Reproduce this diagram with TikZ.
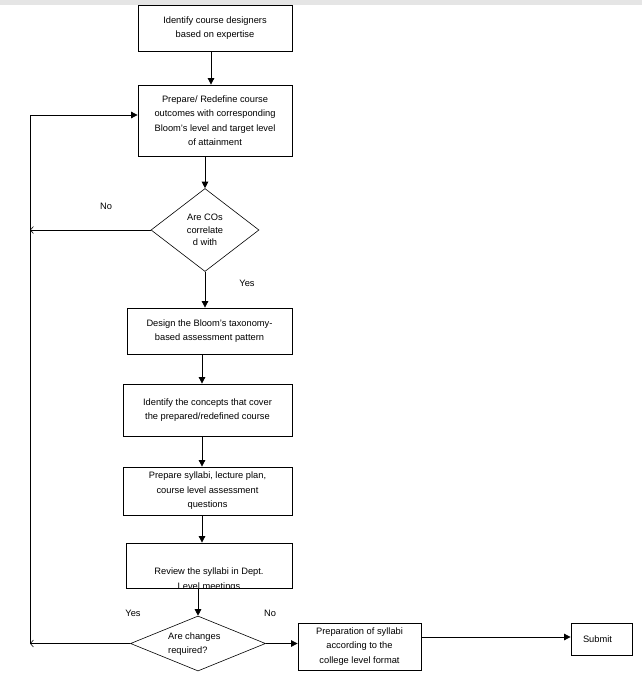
\documentclass[tikz,border=0pt]{standalone}
\usepackage{fontspec}
\setmainfont{Liberation Sans}
\usetikzlibrary{shapes.geometric,arrows.meta}
\definecolor{barcol}{RGB}{229,229,229}
\begin{document}
\begin{tikzpicture}[x=1pt,y=-1pt,
  box/.style={draw, line width=0.8pt, inner sep=0pt, align=center,
    font=\fontsize{9.3}{14.5}\selectfont},
  test/.style={diamond, draw, line width=0.6pt, inner sep=0pt, aspect=1.3,
    font=\fontsize{9.3}{12.5}\selectfont},
  lbl/.style={inner sep=0pt, font=\fontsize{9.3}{11}\selectfont},
  arr/.style={line width=0.8pt, -{Triangle[length=6.5pt,width=6.5pt]}},
  back/.style={line width=0.8pt, -{Straight Barb[length=3pt,width=7pt,line width=0.6pt]}}]
\useasboundingbox (0,0) rectangle (642,682);
\fill[barcol] (0,0) rectangle (642,5);
% main column
\node[box, minimum width=154, minimum height=46] (design) at (215,28)
  {Identify course designers\\based on expertise};
\node[box, minimum width=154, minimum height=71] (prepare) at (215,120.5)
  {Prepare/ Redefine course\\outcomes with corresponding\\Bloom's level and target level\\of attainment};
\node[test, minimum width=108, minimum height=83, align=center] (correl) at (205,230)
  {Are COs\\correlate\\d with};
\node[box, minimum width=165, minimum height=46] (pattern) at (209.5,331)
  {Design the Bloom's taxonomy-\\based assessment pattern};
\node[box, minimum width=169, minimum height=52] (concepts) at (207.5,410)
  {Identify the concepts that cover\\the prepared/redefined course};
\node[box, minimum width=169, minimum height=48] (syllabi) at (207.5,491)
  {Prepare syllabi, lecture plan,\\course level assessment\\questions};
\node[box, minimum width=166, minimum height=45] (review) at (209,565.5) {};
\begin{scope}
\clip (review.south west) rectangle (review.north east);
\node[box, draw=none] (reviewtxt) at (209,579.8) {Review the syllabi in Dept.\\Level meetings};
\end{scope}
\node[test, minimum width=135, minimum height=55, aspect=2.4] (changes) at (198,643.5) {};
\node[lbl, align=left, anchor=north west, font=\fontsize{9.3}{13.5}\selectfont] (changestxt) at (168,633)
  {Are changes\\required?};
\node[box, minimum width=123, minimum height=47] (format) at (359.5,646.5)
  {Preparation of syllabi\\according to the\\college level format};
\node[box, minimum width=61, minimum height=32, text width=37, inner xsep=12, align=left] (submit) at (601.5,639)
  {Submit};
% labels
\node[lbl] (no1) at (106,206) {No};
\node[lbl] (yes1) at (247,283) {Yes};
\node[lbl] (yes2) at (133,613) {Yes};
\node[lbl] (no2) at (270,613) {No};
% connectors
\coordinate (axis) at (202,0);
\coordinate (loop) at (30,115);
\draw[arr] ([xshift=-4]design.south) -- ([xshift=-4]prepare.north);
\draw[arr] (prepare.south -| correl.north) -- (correl.north);
\draw[arr] (correl.south) -- (pattern.north -| correl.south);
\draw[arr] (pattern.south -| axis) -- (concepts.north -| axis);
\draw[arr] (concepts.south -| axis) -- (syllabi.north -| axis);
\draw[arr] (syllabi.south -| axis) -- (review.north -| axis);
\draw[arr] (review.south -| changes.north) -- (changes.north);
\draw[back] (correl.west) -- (correl.west -| loop);
\draw[back] (changes.west) -- (changes.west -| loop);
\draw[arr] (changes.west -| loop) -- (loop) -- (loop -| prepare.west);
\draw[arr] (changes.east) -- (changes.east -| format.west);
\draw[arr] ([yshift=9.5]format.east) -- ([yshift=9.5]format.east -| submit.west);
\end{tikzpicture}
\end{document}
